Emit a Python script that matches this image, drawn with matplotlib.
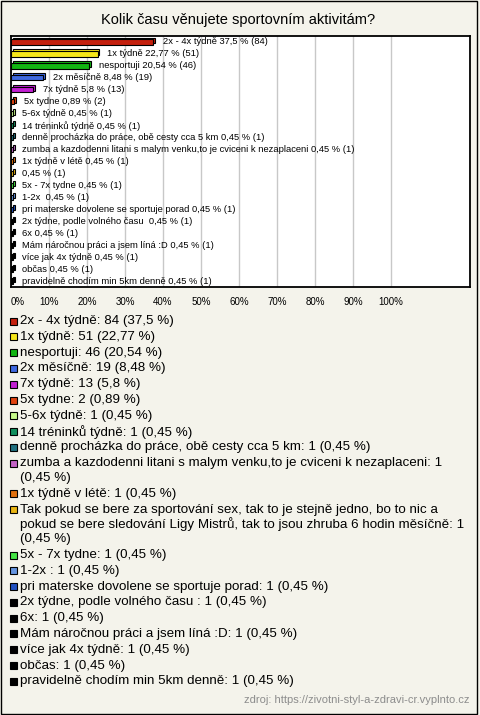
import matplotlib
matplotlib.use("Agg")
import matplotlib.pyplot as plt
import matplotlib.transforms as mtransforms
from matplotlib.patches import Rectangle
import textwrap

plt.rcParams['font.family'] = ['Liberation Sans', 'DejaVu Sans']

title = "Kolik času věnujete sportovním aktivitám?"
source = "zdroj: https://zivotni-styl-a-zdravi-cr.vyplnto.cz"

names = [
    "2x - 4x týdně",
    "1x týdně",
    "nesportuji",
    "2x měsíčně",
    "7x týdně",
    "5x tydne",
    "5-6x týdně",
    "14 tréninků týdně",
    "denně procházka do práce, obě cesty cca 5 km",
    "zumba a kazdodenni litani s malym venku,to je cviceni k nezaplaceni",
    "1x týdně v létě",
    "Tak pokud se bere za sportování sex, tak to je stejně jedno, bo to nic a pokud se bere sledování Ligy Mistrů, tak to jsou zhruba 6 hodin měsíčně",
    "5x - 7x tydne",
    "1-2x ",
    "pri materske dovolene se sportuje porad",
    "2x týdne, podle volného času ",
    "6x",
    "Mám náročnou práci a jsem líná :D",
    "více jak 4x týdně",
    "občas",
    "pravidelně chodím min 5km denně",
]
counts = [84, 51, 46, 19, 13, 2, 1, 1, 1, 1, 1, 1, 1, 1, 1, 1, 1, 1, 1, 1, 1]
pcts = [37.5, 22.77, 20.54, 8.48, 5.8, 0.89, 0.45, 0.45, 0.45, 0.45, 0.45,
        0.45, 0.45, 0.45, 0.45, 0.45, 0.45, 0.45, 0.45, 0.45, 0.45]
colors = ['#c4200e', '#f5e61a', '#12b512', '#3e68e0', '#c21ed2', '#e0420f',
          '#c6f98a', '#12905e', '#20707e', '#c262c4', '#e0700e', '#e8b412',
          '#44e444', '#6494e0', '#2050c0', '#000000', '#000000', '#000000',
          '#000000', '#000000', '#000000']

# the long answer has no name next to its bar in the chart
chart_names = list(names)
chart_names[11] = ""

xticks = list(range(0, 101, 10))


def fmt(p):
    return f"{p:g}".replace('.', ',')


fig = plt.figure(figsize=(4.8, 7.15), dpi=100, facecolor='#f4f3eb')

# pixel canvas for title, legend, source
bg = fig.add_axes([0, 0, 1, 1])
bg.set_xlim(0, 480)
bg.set_ylim(715, 0)
bg.axis('off')
bg.add_patch(Rectangle((0.5, 0.5), 476, 713, fill=False, ec='black', lw=1))
bg.text(238, 20, title, ha='center', va='center', fontsize=10.5)

ax = fig.add_axes([11 / 480, (715 - 287) / 715, 459 / 480, 251 / 715])
ax.set_facecolor('white')
ax.set_xlim(0, 120.8)
ax.set_ylim(20.5, -0.5)
ax.set_yticks([])
ax.set_xticks(xticks)
ax.set_xticklabels([f"{v}%" for v in xticks])
ax.get_xticklabels()[0].set_ha('left')
ax.tick_params(axis='x', length=0, pad=7, labelsize=7)
ax.grid(axis='x', color='#c8c8c8', lw=1)
ax.set_axisbelow(True)
for s in ax.spines.values():
    s.set_linewidth(1.3)

y = list(range(len(pcts)))
# fake 3d depth: same bars shifted up-right a little
depth = mtransforms.offset_copy(ax.transData, fig=fig, x=1.8, y=1.8, units='dots')
ax.barh(y, pcts, height=0.44, color=colors, edgecolor='black', lw=0.8, transform=depth)
ax.barh(y, pcts, height=0.44, color=colors, edgecolor='black', lw=0.8)

for i, (nm, n, p) in enumerate(zip(chart_names, counts, pcts)):
    lab = (nm + " " if nm else "") + f"{fmt(p)} % ({n})"
    ax.annotate(lab, (p, i), xytext=(7, 0), textcoords='offset points',
                va='center', fontsize=6.75)

# legend
ly = 321
for nm, n, p, c in zip(names, counts, pcts, colors):
    lines = textwrap.wrap(f"{nm}: {n} ({fmt(p)} %)", 75)
    bg.add_patch(Rectangle((10, ly - 3.5), 7, 7, fc=c, ec='black', lw=0.8))
    for k, line in enumerate(lines):
        bg.text(20, ly + 14.8 * k, line, va='center', fontsize=9.6)
    ly += 15.8 + 14.8 * (len(lines) - 1)

bg.text(470, 700, source, ha='right', va='center', fontsize=8, color='#8c8c8c')

fig.savefig('out.png', dpi=100, facecolor=fig.get_facecolor())
